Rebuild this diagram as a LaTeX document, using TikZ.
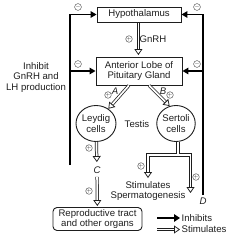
\documentclass[tikz,border=0pt]{standalone}
\usepackage{fontspec}
\setmainfont{Liberation Sans}
\usetikzlibrary{positioning, arrows.meta, shapes.geometric}
\definecolor{inkgray}{HTML}{1E1E1E}

\begin{document}
\begin{tikzpicture}[
  x=1pt, y=-1pt,
  every node/.style={font=\fontsize{9.6}{10.6}\selectfont, text=inkgray},
  box/.style={draw=inkgray, line width=0.9pt, align=center, inner sep=0pt},
  cell/.style={ellipse, draw=inkgray, line width=0.9pt, align=center, inner sep=0pt, minimum width=34pt, minimum height=36pt},
  stim/.style={draw=inkgray, line width=0.75pt, double=white, double distance=1.7pt, -{Triangle[open, length=6pt, width=8pt]}},
  inhib/.style={draw=black, line width=1.6pt, -{Triangle[length=6pt, width=6.5pt]}},
  sign/.style={circle, draw=inkgray!80, line width=0.45pt, inner sep=0pt, minimum size=5.5pt, font=\fontsize{5}{5}\selectfont},
]
\useasboundingbox (0,0) rectangle (240,240);

% Boxes and cells
\node[box, minimum width=84pt, minimum height=15pt] (hypo) at (139,14.5) {Hypothalamus};
\node[box, minimum width=86pt, minimum height=28pt] (ant) at (139,71) {Anterior Lobe of\\Pituitary Gland};
\node[cell] (leydig) at (96,123.5) {Leydig\\cells};
\node[cell, minimum width=37pt] (sertoli) at (176,123.5) {Sertoli\\cells};
\node (testis) at (137,124) {Testis};
\node (C) at (97,170) {\textit{C}};
\node[align=center, inner sep=0pt] (stimsp) at (148,191) {Stimulates\\Spermatogenesis};
\node[box, rounded corners=4pt, minimum width=89pt, minimum height=23pt] (repro) at (97.5,219) {Reproductive tract\\and other organs};
\node[align=center, inner sep=0pt] (inhtext) at (36,77.5) {Inhibit\\GnRH and\\LH production};

% Stimulating pathway
\draw[stim, shorten <=0.5pt, shorten >=1.5pt] ([xshift=-0.6pt]hypo.south) -- ([xshift=-0.6pt]ant.north);
\node (gnrh) at (153,39) {GnRH};
\node[sign] at (129,39) {$+$};

\draw[stim] (ant.235) -- (leydig.50);
\node (A) at (115,91) {\textit{A}};
\node[sign] at (108,95) {$+$};
\draw[stim] (ant.305) -- (sertoli.110);
\node (B) at (163,91) {\textit{B}};
\node[sign] at (170,95) {$+$};

\draw[stim, shorten >=1pt] (leydig) -- (C);
\node[sign] at (89,148) {$+$};
\draw[stim, shorten >=1pt] (C) -- (repro);
\node[sign] at (89,191) {$+$};

% Sertoli branch
\coordinate (split) at (178,155);
\coordinate (rtip) at (190.5,193);
\draw[stim, {Triangle[open, length=6pt, width=8pt]}-{Triangle[open, length=6pt, width=8pt]}]
  ([yshift=3pt]stimsp.north) |- (split) -| (rtip);
\draw[draw=inkgray, line width=0.75pt, double=white, double distance=1.7pt, shorten >=1.2pt] (split |- sertoli.south) -- (split);
\node[sign] at (141,166) {$+$};
\node[sign] at (196,177) {$+$};

% Feedback
\coordinate (lbot) at (70,165);
\draw[inhib] (lbot) |- (hypo.west);
\draw[inhib] (lbot |- ant.west) -- (ant.west);
\node[sign] at (78,7) {$-$};
\node[sign] at (78,64) {$-$};

\coordinate (rbot) at (203,195);
\draw[inhib] (rbot) |- (hypo.east);
\draw[inhib] (rbot |- ant.east) -- (ant.east);
\node[sign] at (197,7) {$-$};
\node[sign] at (197,64) {$-$};
\node (D) at (203,201) {\textit{D}};

% Legend
\coordinate (leg1) at (157,218);
\coordinate (leg2) at (157,229.5);
\node[anchor=west, inner sep=1.5pt] (inhibits) at (180,218) {Inhibits};
\node[anchor=west, inner sep=1.5pt] (stimulates) at (180,229.5) {Stimulates};
\draw[inhib, line width=2.6pt, -{Triangle[length=6pt, width=7.5pt]}] (leg1) -- (inhibits.west);
\draw[stim] (leg2) -- (stimulates.west);

\end{tikzpicture}
\end{document}
